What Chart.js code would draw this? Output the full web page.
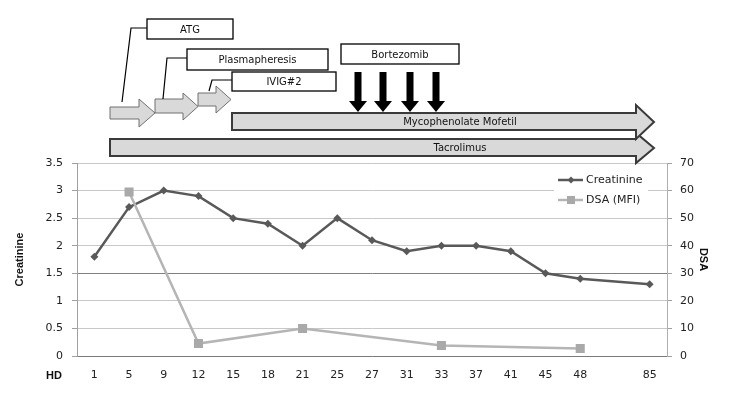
<!DOCTYPE html>
<html>
<head>
<meta charset="utf-8">
<script src="https://cdn.jsdelivr.net/npm/chart.js@4/dist/chart.umd.min.js"></script>
<style>
  body { margin: 0; background: #fff; }
  #wrap { width: 729px; height: 395px; }
</style>
</head>
<body>
<div id="wrap"><canvas id="myChart" width="729" height="395"></canvas></div>
<script>
// dias de hemodialisis (hay un hueco entre 48 y 85)
const dias = ["1", "5", "9", "12", "15", "18", "21", "25", "27", "31", "33", "37", "41", "45", "48", "", "85"];
const creatinina = [1.8, 2.7, 3.0, 2.9, 2.5, 2.4, 2.0, 2.5, 2.1, 1.9, 2.0, 2.0, 1.9, 1.5, 1.4, null, 1.3];
const dsa = [null, 59.5, null, 4.5, null, null, 10, null, null, null, 3.8, null, null, null, 2.7, null, null];
const escalaCreatinina = { min: 0, max: 3.5, paso: 0.5 };
const escalaDsa = { min: 0, max: 70, paso: 10 };

const fuente = "DejaVu Sans";

// flecha horizontal con punta
function flecha(ctx, x1, xPunta, x2, arriba, abajo, puntaArriba, puntaAbajo) {
  const medio = (puntaArriba + puntaAbajo) / 2;
  ctx.beginPath();
  ctx.moveTo(x1, arriba);
  ctx.lineTo(xPunta, arriba);
  ctx.lineTo(xPunta, puntaArriba);
  ctx.lineTo(x2, medio);
  ctx.lineTo(xPunta, puntaAbajo);
  ctx.lineTo(xPunta, abajo);
  ctx.lineTo(x1, abajo);
  ctx.closePath();
  ctx.fill();
  ctx.stroke();
}

function caja(ctx, x, y, w, h, texto) {
  ctx.fillStyle = "#fff";
  ctx.strokeStyle = "#000";
  ctx.lineWidth = 1.3;
  ctx.fillRect(x, y, w, h);
  ctx.strokeRect(x, y, w, h);
  ctx.fillStyle = "#111";
  ctx.fillText(texto, x + w / 2, y + h / 2 + 1);
}

// esquema de tratamientos sobre el grafico
const esquema = {
  id: "esquema",
  afterDraw(chart) {
    const ctx = chart.ctx;
    ctx.save();
    ctx.font = "10px " + fuente;
    ctx.textAlign = "center";
    ctx.textBaseline = "middle";

    // Tacrolimus y Micofenolato
    ctx.fillStyle = "#d9d9d9";
    ctx.strokeStyle = "#3a3a3a";
    ctx.lineWidth = 2;
    flecha(ctx, 110, 636, 654, 139, 156, 133, 163);
    flecha(ctx, 232, 636, 654, 113, 130, 105, 139);
    ctx.fillStyle = "#111";
    ctx.fillText("Mycophenolate Mofetil", 460, 122);
    ctx.fillText("Tacrolimus", 460, 148);

    // flechas pequeñas
    ctx.fillStyle = "#d9d9d9";
    ctx.strokeStyle = "#707070";
    ctx.lineWidth = 1;
    flecha(ctx, 110, 139, 155, 107, 119, 99, 127);
    flecha(ctx, 155, 183, 198, 99, 113, 93, 120);
    flecha(ctx, 198, 216, 231, 93, 106, 86, 113);

    // conectores
    ctx.strokeStyle = "#000";
    ctx.lineWidth = 1.2;
    ctx.beginPath();
    ctx.moveTo(147, 28); ctx.lineTo(131, 28); ctx.lineTo(122, 102);
    ctx.moveTo(187, 58); ctx.lineTo(167, 58); ctx.lineTo(163, 99);
    ctx.moveTo(232, 80); ctx.lineTo(212, 80); ctx.lineTo(209, 91);
    ctx.stroke();

    caja(ctx, 147, 19, 86, 20, "ATG");
    caja(ctx, 187, 49, 141, 21, "Plasmapheresis");
    caja(ctx, 232, 72, 104, 19, "IVIG#2");
    caja(ctx, 341, 44, 118, 20, "Bortezomib");

    // flechas de Bortezomib
    ctx.fillStyle = "#000";
    [358, 383, 410, 436].forEach((x) => {
      ctx.fillRect(x - 3.5, 72, 7, 29);
      ctx.beginPath();
      ctx.moveTo(x - 9, 101);
      ctx.lineTo(x + 9, 101);
      ctx.lineTo(x, 112);
      ctx.closePath();
      ctx.fill();
    });

    // etiqueta HD
    ctx.font = "bold 11px Liberation Sans";
    ctx.fillStyle = "#111";
    ctx.fillText("HD", 54, 376);
    ctx.restore();
  },
  afterDatasetsDraw(chart) {
    // leyenda dentro del area
    const ctx = chart.ctx;
    ctx.save();
    ctx.fillStyle = "#fff";
    ctx.fillRect(554, 166, 94, 44);
    ctx.font = "11px " + fuente;
    ctx.textBaseline = "middle";
    ctx.textAlign = "left";
    chart.data.datasets.forEach((ds, i) => {
      const y = 180 + i * 20;
      ctx.strokeStyle = ds.borderColor;
      ctx.lineWidth = ds.borderWidth;
      ctx.beginPath();
      ctx.moveTo(558, y);
      ctx.lineTo(583, y);
      ctx.stroke();
      ctx.fillStyle = ds.pointBackgroundColor;
      ctx.beginPath();
      if (ds.pointStyle === "rectRot") {
        ctx.moveTo(571, y - 3.5); ctx.lineTo(574.5, y); ctx.lineTo(571, y + 3.5); ctx.lineTo(567.5, y);
      } else {
        ctx.rect(567, y - 4, 8, 8);
      }
      ctx.fill();
      ctx.fillStyle = "#222";
      ctx.fillText(ds.label, 586, y);
    });
    ctx.restore();
  }
};

const fuenteTicks = { family: fuente, size: 11 };

new Chart(document.getElementById("myChart"), {
  type: "line",
  data: {
    labels: dias,
    datasets: [
      {
        label: "Creatinine",
        data: creatinina,
        yAxisID: "y",
        borderColor: "#595959",
        borderWidth: 2.5,
        pointStyle: "rectRot",
        pointRadius: 4,
        pointBackgroundColor: "#595959",
        pointBorderWidth: 0,
        spanGaps: true,
        order: 1,
      },
      {
        label: "DSA (MFI)",
        data: dsa,
        yAxisID: "y1",
        borderColor: "#b5b5b5",
        borderWidth: 2.5,
        pointStyle: "rect",
        pointRadius: 6.4,
        pointBackgroundColor: "#a9a9a9",
        pointBorderWidth: 0,
        spanGaps: true,
        order: 0,
      },
    ],
  },
  options: {
    responsive: false,
    animation: false,
    layout: { padding: { top: 163, left: 0, right: 0, bottom: 0 } },
    plugins: {
      legend: { display: false },
      tooltip: { enabled: false },
    },
    scales: {
      x: {
        offset: true,
        grid: { display: false, drawTicks: false },
        border: { display: true, color: "#7a7a7a", width: 1 },
        ticks: { color: "#222", font: fuenteTicks, padding: 13, maxRotation: 0, autoSkip: false },
        afterFit: (s) => { s.height = 39; },
      },
      y: {
        position: "left",
        min: escalaCreatinina.min,
        max: escalaCreatinina.max,
        ticks: {
          stepSize: escalaCreatinina.paso,
          color: "#222",
          font: fuenteTicks,
          padding: 9,
          callback: (v) => String(v),
        },
        grid: {
          color: (c) => (c.tick && c.tick.value === 1.5 ? "#808080" : "#c8c8c8"),
          tickColor: "#a0a0a0",
          tickLength: 5,
        },
        border: { color: "#a0a0a0" },
        title: {
          display: true,
          text: "Creatinine",
          color: "#111",
          font: { family: "Liberation Sans", weight: "bold", size: 11 },
          padding: { top: 13, bottom: 0 },
        },
        afterFit: (s) => { s.width = 77; },
      },
      y1: {
        position: "right",
        min: escalaDsa.min,
        max: escalaDsa.max,
        ticks: { stepSize: escalaDsa.paso, color: "#222", font: fuenteTicks, padding: 8 },
        grid: { drawOnChartArea: false, color: "#a0a0a0", tickLength: 5 },
        border: { color: "#b0b0b0" },
        title: {
          display: true,
          text: "DSA",
          color: "#111",
          font: { family: "Liberation Sans", weight: "bold", size: 11 },
          padding: { top: 19, bottom: 0 },
        },
        afterFit: (s) => { s.width = 62; },
      },
    },
  },
  plugins: [esquema],
});
</script>
</body>
</html>
